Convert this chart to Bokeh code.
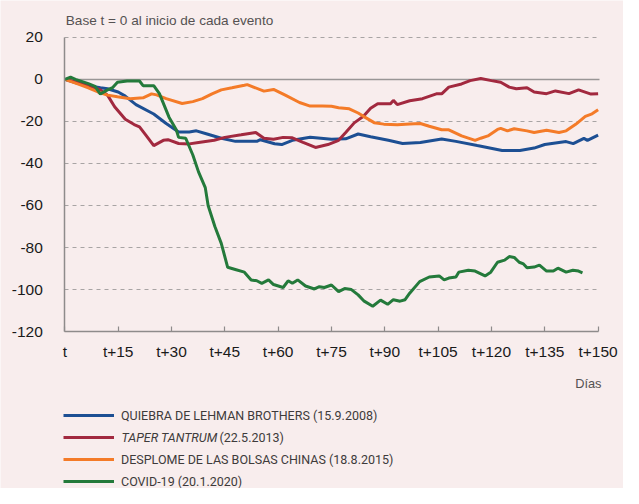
from bokeh.plotting import figure
from bokeh.models import Range1d, FixedTicker, Label, Legend, LegendItem, Grid
from bokeh.embed import file_html
from bokeh.resources import INLINE

# ---- data ----
x_ticks = [0, 15, 30, 45, 60, 75, 90, 105, 120, 135, 150]
x_tick_labels = ["t", "t+15", "t+30", "t+45", "t+60", "t+75", "t+90", "t+105", "t+120", "t+135", "t+150"]
y_ticks = [20, 0, -20, -40, -60, -80, -100, -120]
y_tick_labels = ["20", "0", "-20", "-40", "-60", "-80", "-100", "-120"]

series_names = ["QUIEBRA DE LEHMAN BROTHERS (15.9.2008)", "TAPER TANTRUM (22.5.2013)",
                "DESPLOME DE LAS BOLSAS CHINAS (18.8.2015)", "COVID-19 (20.1.2020)"]

lehman_days = [0, 3.8, 6.6, 10, 12, 15, 17, 20, 25, 28.5, 32, 35, 37, 40, 44, 48, 54, 55, 59, 61,
               64, 69, 75, 79, 82.5, 86, 91, 95, 100, 106, 110, 116, 123, 128, 132, 135, 141, 143,
               146, 147, 150]
lehman_vals = [0, -2, -3, -4, -4.5, -6, -8, -12, -16.5, -21, -25, -25, -24.5, -26, -28, -29.5, -29.5,
               -28.7, -30.6, -31, -29, -27.5, -28.5, -28.3, -26, -27.3, -29, -30.5, -30, -28.4, -29.5,
               -31.5, -33.8, -33.8, -32.7, -31, -29.6, -30.6, -28.1, -29, -26.5]

taper_days = [0, 3.8, 6.6, 10, 12, 14, 17, 19.5, 21, 23, 25, 27.7, 29, 32, 35, 37.6, 42, 45, 49.6,
              51, 53.7, 56, 58.7, 61.4, 64, 67, 70.5, 74, 77, 79, 81.4, 84, 86, 88, 91.6, 92.4, 93.5,
              97, 100.6, 104.5, 106, 108, 111.6, 114, 117, 120, 122.6, 125, 127, 130, 132, 135.5,
              138, 141.8, 144.5, 148, 150]
taper_vals = [0, -1.5, -3, -5, -7.5, -13, -19, -21.5, -22.6, -27, -31.5, -29, -28.7, -30.5, -30.7,
              -30, -29, -27.6, -26.4, -26, -25.3, -28, -28.5, -27.6, -27.8, -30, -32.4, -31, -29,
              -25.3, -20.7, -17.6, -13.8, -11.6, -11.6, -10, -12, -10.2, -9.2, -6.9, -6.9, -3.7, -2.2,
              -0.6, 0.4, -0.6, -1.4, -3.7, -4.5, -4, -6, -6.8, -5.5, -6.8, -5, -7, -6.8]

china_days = [0, 3.8, 6.6, 9.3, 12, 14.8, 18.4, 22, 24.4, 25.8, 28.5, 33, 36, 38.7, 41.4, 44, 47,
              50.5, 51.3, 56, 58.7, 62, 66, 69, 72.4, 75, 77, 80, 82.5, 84, 87, 89.7, 93.5, 97, 100,
              102.5, 106, 108, 111.6, 115.4, 117, 119, 121.7, 122.6, 124.5, 126.4, 130, 132, 135.5,
              139, 141, 143.7, 146.4, 148.3, 150]
china_vals = [0, -2.3, -4, -6, -7.5, -8.3, -9.2, -8.8, -6.9, -7.4, -9.2, -11.5, -10.6, -9.2, -6.9,
              -5, -4, -2.8, -2.5, -5.6, -4.8, -7.5, -11, -12.7, -12.7, -12.8, -13.5, -14, -16, -17.6,
              -20.6, -21.3, -21.6, -21.2, -21, -22.3, -24, -24, -26.9, -29, -28, -26.9, -23.8, -23.3,
              -24.5, -23.5, -24.5, -25.3, -24.2, -25.3, -24.5, -21.4, -17.6, -16.4, -14.5]

covid_days = [0, 1.6, 3, 6.6, 8.5, 10, 12, 13.4, 14.8, 17.5, 21, 22, 25, 26.6, 29.3, 31.3, 32, 34,
              36, 37.6, 39.5, 40.3, 42.2, 44, 45.8, 47.7, 50.5, 52.4, 54, 55.4, 57.3, 58.7, 61.4,
              62.8, 64, 65.5, 67.7, 70.2, 71.6, 73, 75, 77, 78.7, 80.6, 82.5, 84.2, 86.6, 88.8, 90.8,
              92.4, 94.3, 95.7, 97, 99.8, 102.5, 105.3, 106.7, 108, 110, 110.8, 113.5, 115.4, 118.2,
              119.8, 121.7, 123.7, 125, 126.4, 127.8, 129, 130, 132, 133.5, 135.5, 137.4, 138.7, 141,
              142.9, 144.5, 145.6]
covid_vals = [0, 1, 0, -2, -3.3, -7, -5, -4, -1.4, -0.8, -0.8, -3, -3, -6.8, -18, -23.8, -27.6, -28,
              -36, -44, -51.5, -60, -70, -78, -89.4, -90.3, -91.7, -95.4, -95.8, -97, -95.4, -97.6,
              -99, -95.8, -97, -95.4, -98.3, -99.7, -98.6, -99, -97.8, -101, -99.5, -100, -102.5,
              -105.5, -107.9, -105, -107, -104.8, -105.5, -104.8, -101.7, -96.2, -94, -93.5, -95.4,
              -94.5, -94, -91.7, -90.8, -91.2, -93.5, -91.7, -87, -86, -84.3, -84.7, -87, -87.8,
              -89.6, -89.3, -88.4, -91.2, -91.2, -89.8, -91.7, -90.8, -91.2, -92]

# ---- styling ----
BG = "#F8EDED"
COLORS = ["#1D4F93", "#A2293F", "#F47B28", "#247A3B"]
FONT = "Liberation Sans"
LEG_FONT = "Roboto"
LEG_SIZE = "12.5px"
TXT = "#3E3B3B"

# the frame covers the whole canvas, so that no text is clipped; axes sit at fixed locations
p = figure(width=623, height=488, output_backend="svg", toolbar_location=None,
           x_range=Range1d(-18.1, 157.14), y_range=Range1d(-194.6, 37.5),
           min_border_left=0, min_border_right=0, min_border_top=0, min_border_bottom=0,
           background_fill_color=BG, border_fill_color=BG, outline_line_color=None)

# grid (dashed) and zero line (solid), limited to the data area
p.xgrid.visible = False
p.ygrid.ticker = FixedTicker(ticks=[t for t in y_ticks if t not in (0, -120)])
p.ygrid.grid_line_color = "#A8A4A4"
p.ygrid.grid_line_dash = "4 4"
p.ygrid.grid_line_width = 1
p.ygrid.bounds = (-120, 20)
zero_grid = Grid(dimension=1, ticker=FixedTicker(ticks=[0]), grid_line_color="#999696",
                 grid_line_width=1.6)
if "cross_bounds" in p.ygrid[0].properties():
    p.ygrid.cross_bounds = (0, 150.3)
    zero_grid.cross_bounds = (0, 150.3)
p.add_layout(zero_grid)

# axes
p.xaxis.fixed_location = -120
p.yaxis.fixed_location = 0
p.xaxis.bounds = (0, 150)
p.yaxis.bounds = (-120, 20)
p.xaxis.ticker = FixedTicker(ticks=x_ticks)
p.xaxis.major_label_overrides = dict(zip(x_ticks, x_tick_labels))
p.yaxis.ticker = FixedTicker(ticks=y_ticks)
p.yaxis.major_label_overrides = dict(zip(y_ticks, y_tick_labels))
for ax in (p.xaxis[0], p.yaxis[0]):
    ax.axis_line_color = "#8E8B8B"
    ax.axis_line_width = 1.5
    ax.minor_tick_line_color = None
    ax.major_label_text_font = FONT
    ax.major_label_text_font_size = "15.5px"
    ax.major_label_text_color = "#1A1A1A"
p.xaxis.major_tick_in = 5
p.xaxis.major_tick_out = 0
p.xaxis.major_tick_line_color = "#8E8B8B"
p.xaxis.major_tick_line_width = 1.2
p.xaxis.major_label_standoff = 11
p.yaxis.major_tick_line_color = None
p.yaxis.major_label_standoff = 16

# series
r1 = p.line(lehman_days, lehman_vals, line_color=COLORS[0], line_width=3)
r2 = p.line(taper_days, taper_vals, line_color=COLORS[1], line_width=3)
r3 = p.line(china_days, china_vals, line_color=COLORS[2], line_width=3)
r4 = p.line(covid_days, covid_vals, line_color=COLORS[3], line_width=3)

# legend
legend = Legend(items=[LegendItem(label=series_names[0], renderers=[r1]),
                       LegendItem(label=" ", renderers=[r2]),
                       LegendItem(label=series_names[2], renderers=[r3]),
                       LegendItem(label=series_names[3], renderers=[r4])],
                location=(63, -3), orientation="vertical",
                glyph_width=51, glyph_height=20, label_height=20, spacing=2,
                label_standoff=7, padding=0, margin=0,
                border_line_alpha=0, background_fill_alpha=0,
                label_text_font=LEG_FONT, label_text_font_size=LEG_SIZE,
                label_text_color=TXT)
p.add_layout(legend, "center")

p.add_layout(Label(x=121, y=51, x_units="screen", y_units="screen", text="TAPER TANTRUM",
                   text_font=LEG_FONT, text_font_size=LEG_SIZE, text_font_style="italic",
                   text_color=TXT, text_baseline="middle"))
p.add_layout(Label(x=219, y=51, x_units="screen", y_units="screen", text="(22.5.2013)",
                   text_font=LEG_FONT, text_font_size=LEG_SIZE,
                   text_color=TXT, text_baseline="middle"))

# title and unit labels
p.add_layout(Label(x=65.3, y=467.7, x_units="screen", y_units="screen",
                   text="Base t = 0 al inicio de cada evento",
                   text_font=FONT, text_font_size="13.6px", text_color="#555252",
                   text_baseline="middle"))
p.add_layout(Label(x=601, y=105.5, x_units="screen", y_units="screen", text="Días",
                   text_font=FONT, text_font_size="12.8px", text_color="#555252",
                   text_baseline="middle", text_align="right"))

open("out.html", "w").write(file_html(p, INLINE))
